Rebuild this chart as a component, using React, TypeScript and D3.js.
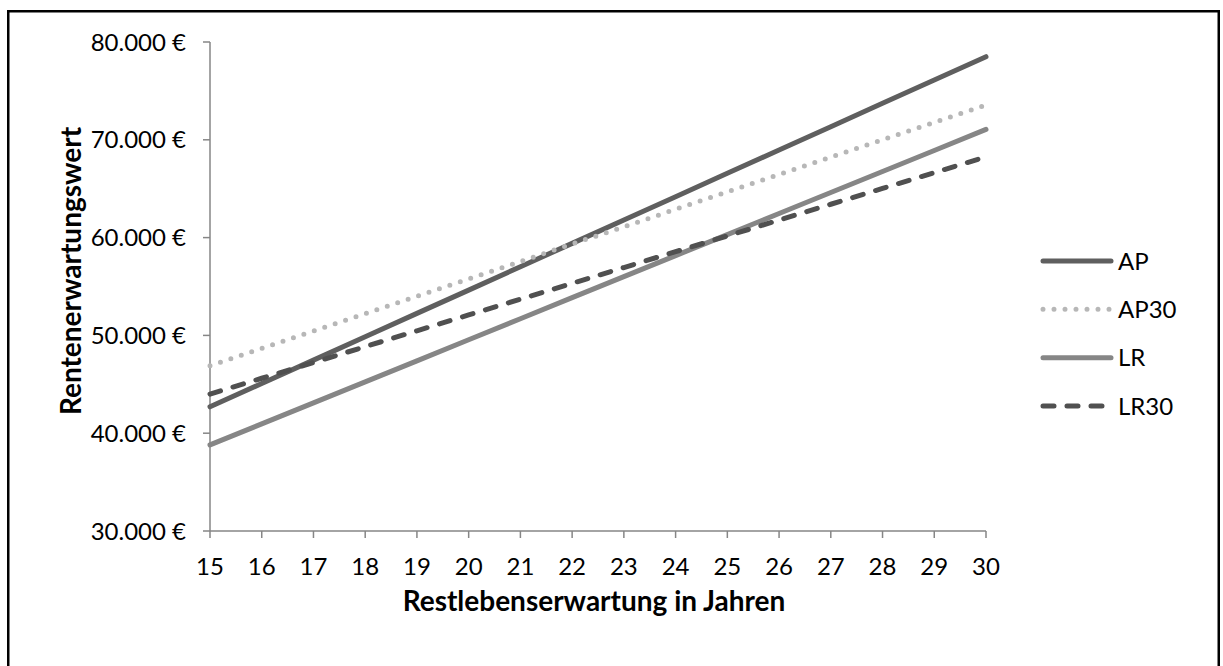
import React from "react";
import * as d3 from "d3";

const years = [15, 16, 17, 18, 19, 20, 21, 22, 23, 24, 25, 26, 27, 28, 29, 30];
const AP = [42700, 45090, 47470, 49860, 52250, 54630, 57020, 59410, 61790, 64180, 66570, 68950, 71340, 73730, 76110, 78500];
const AP30 = [46900, 48680, 50450, 52230, 54010, 55780, 57560, 59340, 61110, 62890, 64670, 66440, 68220, 70000, 71770, 73550];
const LR = [38800, 40950, 43100, 45250, 47400, 49550, 51700, 53860, 56010, 58160, 60310, 62460, 64610, 66760, 68910, 71060];
const LR30 = [44000, 45620, 47230, 48850, 50470, 52090, 53700, 55320, 56940, 58560, 60170, 61790, 63410, 65030, 66640, 68260];
const yTicks = [30000, 40000, 50000, 60000, 70000, 80000];
const seriesNames = ["AP", "AP30", "LR", "LR30"];

const W = 1223, H = 666;
const FONT = "Lato, 'Open Sans', sans-serif";

const styles: Record<string, { color: string; dash: string }> = {
  AP: { color: "#5f5f5f", dash: "" },
  AP30: { color: "#b7b7b7", dash: "0 11" },
  LR: { color: "#868686", dash: "" },
  LR30: { color: "#505050", dash: "11 13" },
};

export default function App() {
  const x = d3.scaleLinear().domain([15, 30]).range([210, 986]);
  const y = d3.scaleLinear().domain([30000, 80000]).range([531, 42]);
  const data: Record<string, number[]> = { AP, AP30, LR, LR30 };
  const line = d3
    .line<number>()
    .x((_, i) => x(years[i]))
    .y((d) => y(d));
  const fmt = (v: number) => d3.format(",")(v).replace(/,/g, ".") + " €";
  const axisColor = "#868686";
  const legendY = d3.scalePoint<string>().domain(seriesNames).range([261, 406]);

  return (
    <div style={{ position: "absolute", left: 0, top: 0 }}>
      <svg width={W} height={H} style={{ display: "block", fontFamily: FONT }}>
        <rect x={0} y={0} width={W} height={H} fill="#fff" />
        <rect x={8.25} y={11.25} width={1210.5} height={700} fill="none" stroke="#000" strokeWidth={2.5} />
        {/* y axis */}
        <line x1={210} x2={210} y1={y(80000)} y2={y(30000)} stroke={axisColor} strokeWidth={1.5} />
        {yTicks.map((t) => (
          <g key={t}>
            <line x1={203} x2={210} y1={y(t)} y2={y(t)} stroke={axisColor} strokeWidth={1.5} />
            <text x={186} y={y(t) + 8.5} textAnchor="end" fontSize={24} fill="#000">
              {fmt(t)}
            </text>
          </g>
        ))}
        {/* x axis */}
        <line x1={210} x2={986} y1={y(30000)} y2={y(30000)} stroke={axisColor} strokeWidth={1.5} />
        {years.map((t) => (
          <g key={t}>
            <line x1={x(t)} x2={x(t)} y1={y(30000)} y2={y(30000) + 7} stroke={axisColor} strokeWidth={1.5} />
            <text x={x(t)} y={575} textAnchor="middle" fontSize={24} fill="#000">
              {t}
            </text>
          </g>
        ))}
        {/* titles */}
        <text x={594} y={611} textAnchor="middle" fontSize={28} fontWeight="bold" fill="#000">
          Restlebenserwartung in Jahren
        </text>
        <text
          transform={`translate(81,271) rotate(-90)`}
          textAnchor="middle"
          fontSize={28}
          fontWeight="bold"
          fill="#000"
        >
          Rentenerwartungswert
        </text>
        {/* lines */}
        {seriesNames.map((s) => (
          <path
            key={s}
            d={line(data[s]) || ""}
            fill="none"
            stroke={styles[s].color}
            strokeWidth={5}
            strokeLinecap="round"
            strokeLinejoin="round"
            strokeDasharray={styles[s].dash || undefined}
          />
        ))}
        {/* legend */}
        {seriesNames.map((s) => (
          <g key={s}>
            <line
              x1={1043}
              x2={1111}
              y1={legendY(s)}
              y2={legendY(s)}
              stroke={styles[s].color}
              strokeWidth={5}
              strokeLinecap="round"
              strokeDasharray={styles[s].dash || undefined}
            />
            <text x={1118} y={(legendY(s) || 0) + 8.5} fontSize={24} fill="#000">
              {s}
            </text>
          </g>
        ))}
      </svg>
    </div>
  );
}
